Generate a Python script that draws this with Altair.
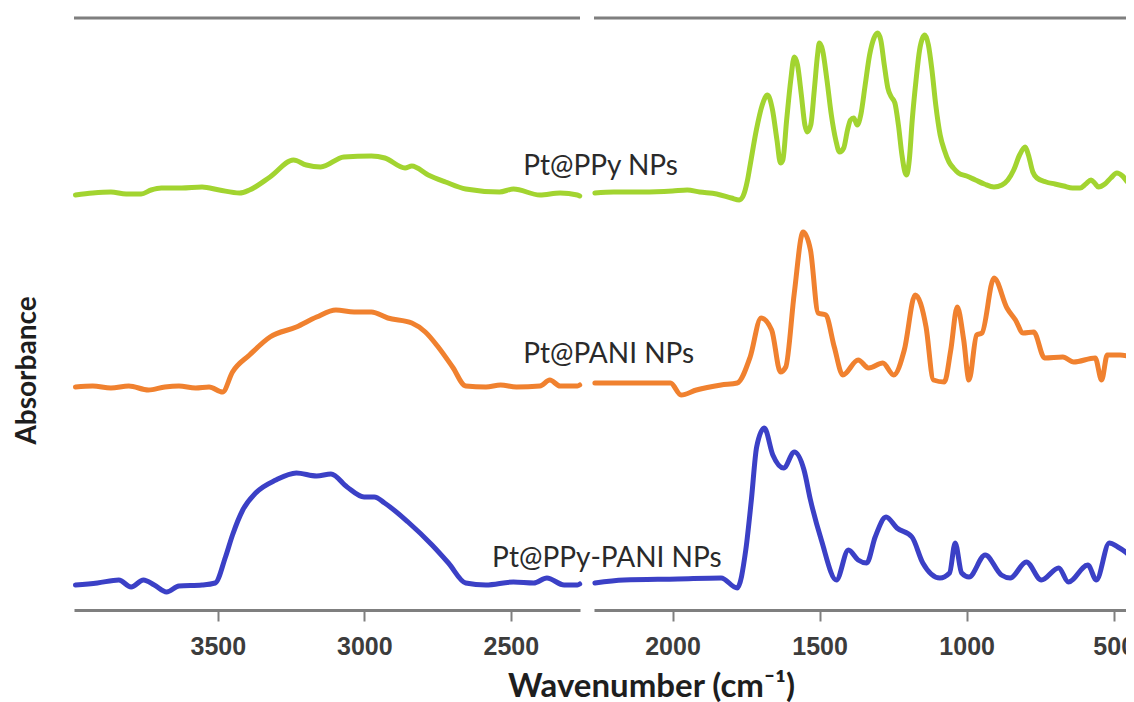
import altair as alt
import pandas as pd

# ---------------- data (wavenumber in cm-1, absorbance in arbitrary offset units) ----------------
series_names = ["Pt@PPy NPs", "Pt@PANI NPs", "Pt@PPy-PANI NPs"]
series_colors = ["#A2D430", "#F0812F", "#3B40C6"]

# Left panel (about 4000 - 2264 cm-1)
ppy_left_wn = [3986, 3927, 3865, 3813, 3762, 3728, 3693, 3624, 3554, 3495, 3426, 3392, 3322, 3242, 3198,
               3149, 3070, 2976, 2930, 2861, 2838, 2782, 2723, 2654, 2539, 2491, 2401, 2332, 2273, 2265]
ppy_left_a = [4.15, 4.17, 4.18, 4.16, 4.16, 4.20, 4.22, 4.22, 4.23, 4.20, 4.17, 4.20, 4.33, 4.50, 4.45,
              4.43, 4.53, 4.54, 4.52, 4.42, 4.44, 4.35, 4.28, 4.21, 4.18, 4.21, 4.15, 4.17, 4.15, 4.14]

pani_left_wn = [3986, 3927, 3865, 3804, 3737, 3681, 3633, 3576, 3530, 3484, 3450, 3392, 3322, 3232, 3163, 3097,
                3035, 2976, 2920, 2838, 2792, 2748, 2699, 2654, 2585, 2535, 2481, 2401, 2367, 2332, 2273, 2265]
pani_left_a = [2.23, 2.24, 2.22, 2.24, 2.20, 2.23, 2.24, 2.22, 2.23, 2.18, 2.38, 2.55, 2.73, 2.83, 2.93, 3.00,
               2.98, 2.98, 2.92, 2.87, 2.78, 2.63, 2.43, 2.24, 2.23, 2.25, 2.23, 2.24, 2.30, 2.24, 2.24, 2.25]

mix_left_wn = [3986, 3911, 3838, 3796, 3754, 3717, 3675, 3633, 3554, 3509, 3474, 3450, 3415, 3371, 3302, 3232, 3163,
               3114, 3059, 3001, 2966, 2931, 2851, 2769, 2713, 2654, 2585, 2491, 2422, 2377, 2318, 2273, 2265]
mix_left_a = [0.25, 0.27, 0.30, 0.23, 0.30, 0.25, 0.18, 0.24, 0.25, 0.27, 0.53, 0.75, 1.00, 1.17, 1.30, 1.37, 1.34,
              1.36, 1.23, 1.13, 1.13, 1.07, 0.88, 0.65, 0.47, 0.27, 0.25, 0.28, 0.27, 0.32, 0.25, 0.25, 0.26]

# Right panel (about 2267 - 431 cm-1)
ppy_right_wn = [2264, 2200, 2100, 2000, 1950, 1908, 1850, 1800, 1773, 1760, 1745, 1736, 1715, 1695, 1677, 1660,
                1645, 1633, 1625, 1612, 1598, 1586, 1575, 1562, 1550, 1542, 1530, 1518, 1507, 1501, 1490, 1475,
                1460, 1445, 1432, 1418, 1405, 1395, 1384, 1372, 1360, 1345, 1330, 1315, 1303, 1292, 1280, 1268,
                1256, 1244, 1232, 1220, 1210, 1204, 1195, 1185, 1172, 1160, 1150, 1142, 1130, 1118, 1105, 1090,
                1076, 1060, 1045, 1028, 1000, 970, 940, 907, 880, 860, 840, 820, 801, 790, 775, 761, 730, 700,
                670, 640, 614, 595, 577, 565, 552, 530, 510, 489, 470, 450, 431]
ppy_right_a = [4.17, 4.18, 4.18, 4.19, 4.20, 4.18, 4.16, 4.12, 4.10, 4.14, 4.30, 4.45, 4.80, 5.05, 5.15, 5.00,
               4.70, 4.47, 4.50, 4.90, 5.30, 5.53, 5.45, 5.15, 4.85, 4.78, 4.85, 5.20, 5.55, 5.67, 5.60, 5.30,
               4.95, 4.70, 4.58, 4.62, 4.80, 4.90, 4.92, 4.85, 4.95, 5.25, 5.55, 5.72, 5.77, 5.70, 5.45, 5.22,
               5.13, 5.07, 4.85, 4.55, 4.38, 4.35, 4.50, 4.90, 5.30, 5.60, 5.72, 5.75, 5.65, 5.40, 5.05, 4.75,
               4.60, 4.48, 4.42, 4.37, 4.34, 4.30, 4.26, 4.23, 4.25, 4.30, 4.40, 4.55, 4.63, 4.55, 4.38, 4.32,
               4.28, 4.26, 4.24, 4.22, 4.22, 4.26, 4.30, 4.27, 4.23, 4.26, 4.32, 4.37, 4.34, 4.27, 4.23]

pani_right_wn = [2264, 2150, 2007, 1971, 1919, 1835, 1780, 1736, 1699, 1663, 1633, 1615, 1586, 1556, 1531, 1505,
                 1479, 1450, 1421, 1369, 1333, 1285, 1248, 1212, 1175, 1138, 1113, 1076, 1054, 1032, 1010, 992,
                 966, 948, 907, 863, 834, 808, 772, 735, 673, 636, 563, 541, 522, 478, 431]
pani_right_a = [2.27, 2.27, 2.27, 2.15, 2.20, 2.25, 2.27, 2.53, 2.92, 2.80, 2.38, 2.43, 3.17, 3.78, 3.60, 2.97,
                2.95, 2.63, 2.35, 2.50, 2.42, 2.47, 2.35, 2.60, 3.15, 2.83, 2.30, 2.28, 2.60, 3.03, 2.70, 2.30,
                2.75, 2.77, 3.32, 3.02, 2.90, 2.77, 2.78, 2.52, 2.53, 2.48, 2.52, 2.30, 2.55, 2.55, 2.52]

mix_right_wn = [2264, 2165, 1982, 1835, 1780, 1751, 1732, 1714, 1688, 1659, 1622, 1586, 1553, 1531, 1494, 1443,
                1402, 1369, 1340, 1311, 1274, 1237, 1186, 1149, 1091, 1058, 1039, 1017, 992, 937, 882, 852, 797,
                746, 687, 654, 588, 559, 515, 486, 460, 431]
mix_right_a = [0.27, 0.30, 0.31, 0.32, 0.22, 0.60, 1.10, 1.63, 1.82, 1.55, 1.42, 1.58, 1.40, 1.10, 0.70, 0.30,
               0.60, 0.50, 0.47, 0.73, 0.93, 0.82, 0.73, 0.47, 0.32, 0.37, 0.67, 0.37, 0.33, 0.55, 0.35, 0.32, 0.48,
               0.30, 0.42, 0.28, 0.45, 0.30, 0.67, 0.63, 0.58, 0.50]

# Curve labels (placed in left panel coordinates)
label_text = ["Pt@PPy NPs", "Pt@PANI NPs", "Pt@PPy-PANI NPs"]
label_wn = [2458, 2458, 2564]
label_a = [4.35, 2.47, 0.43]

left_domain = [3991, 2264]
right_domain = [2267, 431]
left_ticks = [3500, 3000, 2500]
right_ticks = [2000, 1500, 1000, 500]
y_domain = [0, 5.92]

# ---------------- build tables ----------------
def table(parts):
    frames = []
    for name, wn, a in parts:
        frames.append(pd.DataFrame({"wn": wn, "a": a, "s": name}))
    return pd.concat(frames, ignore_index=True)

left_df = table([(series_names[0], ppy_left_wn, ppy_left_a),
                 (series_names[1], pani_left_wn, pani_left_a),
                 (series_names[2], mix_left_wn, mix_left_a)])
right_df = table([(series_names[0], ppy_right_wn, ppy_right_a),
                  (series_names[1], pani_right_wn, pani_right_a),
                  (series_names[2], mix_right_wn, mix_right_a)])
labels_df = pd.DataFrame({"wn": label_wn, "a": label_a, "t": label_text})

AXIS_GREY = "#7f7f7f"
color_scale = alt.Scale(domain=series_names, range=series_colors)
y_scale = alt.Scale(domain=y_domain, nice=False, zero=False)

LEFT_W, RIGHT_W, H = 506, 540, 592


def x_axis(values, with_title):
    kw = dict(
        values=values, format="d", grid=False,
        labelFont="Liberation Sans", labelFontWeight="bold", labelFontSize=25,
        labelColor="#3c3c3c", labelPadding=13,
        domainColor=AXIS_GREY, domainWidth=3,
        tickColor=AXIS_GREY, tickWidth=2, tickSize=11,
    )
    if with_title:
        kw.update(title="Wavenumber (cm⁻¹)", titleFont="Lato", titleFontSize=33,
                  titleFontWeight="bold", titleColor="#1e1e1e",
                  titleX=577, titleY=86, titleAlign="center", titleBaseline="alphabetic")
    else:
        kw.update(title=None)
    return alt.Axis(**kw)


def panel(df, domain, ticks, width, left):
    x = alt.X("wn:Q", scale=alt.Scale(domain=domain, nice=False, zero=False),
              axis=x_axis(ticks, left))
    if left:
        y = alt.Y("a:Q", scale=y_scale,
                  axis=alt.Axis(title="Absorbance", labels=False, ticks=False, domain=False, grid=False,
                                titleFont="Lato", titleFontSize=28, titleFontWeight="bold",
                                titleColor="#1e1e1e", titleAngle=270,
                                titleX=-39, titleY=352, titleAlign="center",
                                titleBaseline="alphabetic"))
    else:
        y = alt.Y("a:Q", scale=y_scale, axis=None)
    lines = alt.Chart(df).mark_line(strokeWidth=5, strokeJoin="round", strokeCap="round",
                                    interpolate="monotone").encode(
        x=x, y=y,
        color=alt.Color("s:N", scale=color_scale, legend=None),
    )
    top = alt.Chart(pd.DataFrame({"k": [0]})).mark_rule(color=AXIS_GREY, strokeWidth=3).encode(
        x=alt.value(0), x2=alt.value(width), y=alt.value(0)
    )
    layers = [lines, top]
    if left:
        txt = alt.Chart(labels_df).mark_text(align="left", baseline="alphabetic", font="Lato",
                                             fontSize=28, color="#2a2a2a").encode(
            x=alt.X("wn:Q"), y=alt.Y("a:Q"), text="t:N")
        layers.append(txt)
    return alt.layer(*layers).properties(
        width=width, height=H,
        view=alt.ViewBackground(stroke="transparent", strokeWidth=0),
    )


left = panel(left_df, left_domain, left_ticks, LEFT_W, True)
right = panel(right_df, right_domain, right_ticks, RIGHT_W, False)

chart = alt.hconcat(left, right, spacing=14, bounds="flush").properties(
    padding={"left": 5, "top": 8, "right": -11, "bottom": 0}
).configure_view(stroke="transparent", strokeWidth=0).configure(background="white")

chart.save("out.html", embed_options={"renderer": "svg", "actions": False})
